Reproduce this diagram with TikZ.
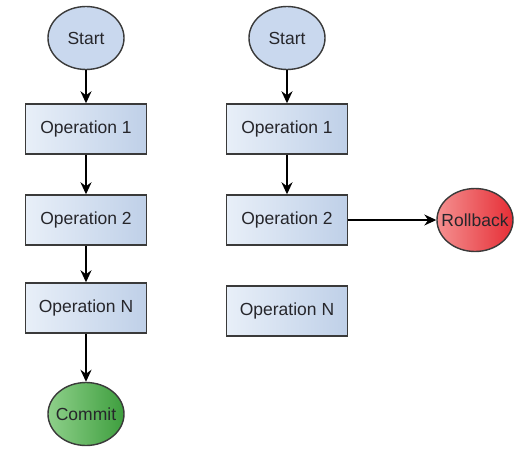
\documentclass[tikz,border=0pt]{standalone}
\usepackage{fontspec}
\setmainfont{Liberation Sans}
\usetikzlibrary{shapes.geometric,arrows.meta}
\definecolor{edge}{HTML}{3A3A3A}
\definecolor{txt}{HTML}{26262B}
\definecolor{boxA}{HTML}{E8EFF8}
\definecolor{boxB}{HTML}{BFD0E8}
\definecolor{startF}{HTML}{C9D8EE}
\definecolor{grnA}{HTML}{8ED08A}
\definecolor{grnB}{HTML}{3E9E3E}
\definecolor{redA}{HTML}{F49090}
\definecolor{redB}{HTML}{E62E36}
\tikzset{
  lbl/.style={text=txt, font=\fontsize{17.5}{19}\selectfont},
  opbox/.style={draw=edge, line width=1.4pt, minimum width=121pt, minimum height=50pt,
    inner sep=0pt, left color=boxA, right color=boxB, lbl},
  ellbase/.style={ellipse, draw=edge, line width=1.4pt, minimum width=76pt, minimum height=63pt,
    inner sep=0pt, label={[lbl]center:#1}},
  startell/.style={ellbase=#1, fill=startF},
  commitell/.style={ellbase=#1, left color=grnA, right color=grnB},
  rollell/.style={ellbase=#1, left color=redA, right color=redB},
  flow/.style={draw=black, line width=1.8pt, -{Stealth[length=12pt,width=11pt]}},
  flowthin/.style={draw=black, line width=1.1pt, -{Stealth[length=12pt,width=11pt]}}
}
\begin{document}
\begin{tikzpicture}[x=1pt,y=-1pt]
\useasboundingbox[fill=white] (0,0) rectangle (531,453);
% left column
\node[startell=Start] (s1) at (86,38) {};
\node[opbox] (a1) at (86,129) {Operation 1};
\node[opbox] (a2) at (86,220) {Operation 2};
\node[opbox] (an) at (86,308) {Operation N};
\node[commitell=Commit] (c) at (86,414) {};
% right column
\node[startell=Start] (s2) at (287,38) {};
\node[opbox] (b1) at (287,129) {Operation 1};
\node[opbox] (b2) at (287,220) {Operation 2};
\node[opbox] (bn) at (287,311) {Operation N};
\node[rollell=Rollback] (r) at (475,220) {};
% connectors
\draw[flow] (s1) -- (a1);
\draw[flow] (a1) -- (a2);
\draw[flow] (a2) -- (an);
\draw[flow] (an) -- (c);
\draw[flow] (s2) -- (b1);
\draw[flow] (b1) -- (b2);
\draw[flowthin] (b2) -- (r);
\end{tikzpicture}
\end{document}
